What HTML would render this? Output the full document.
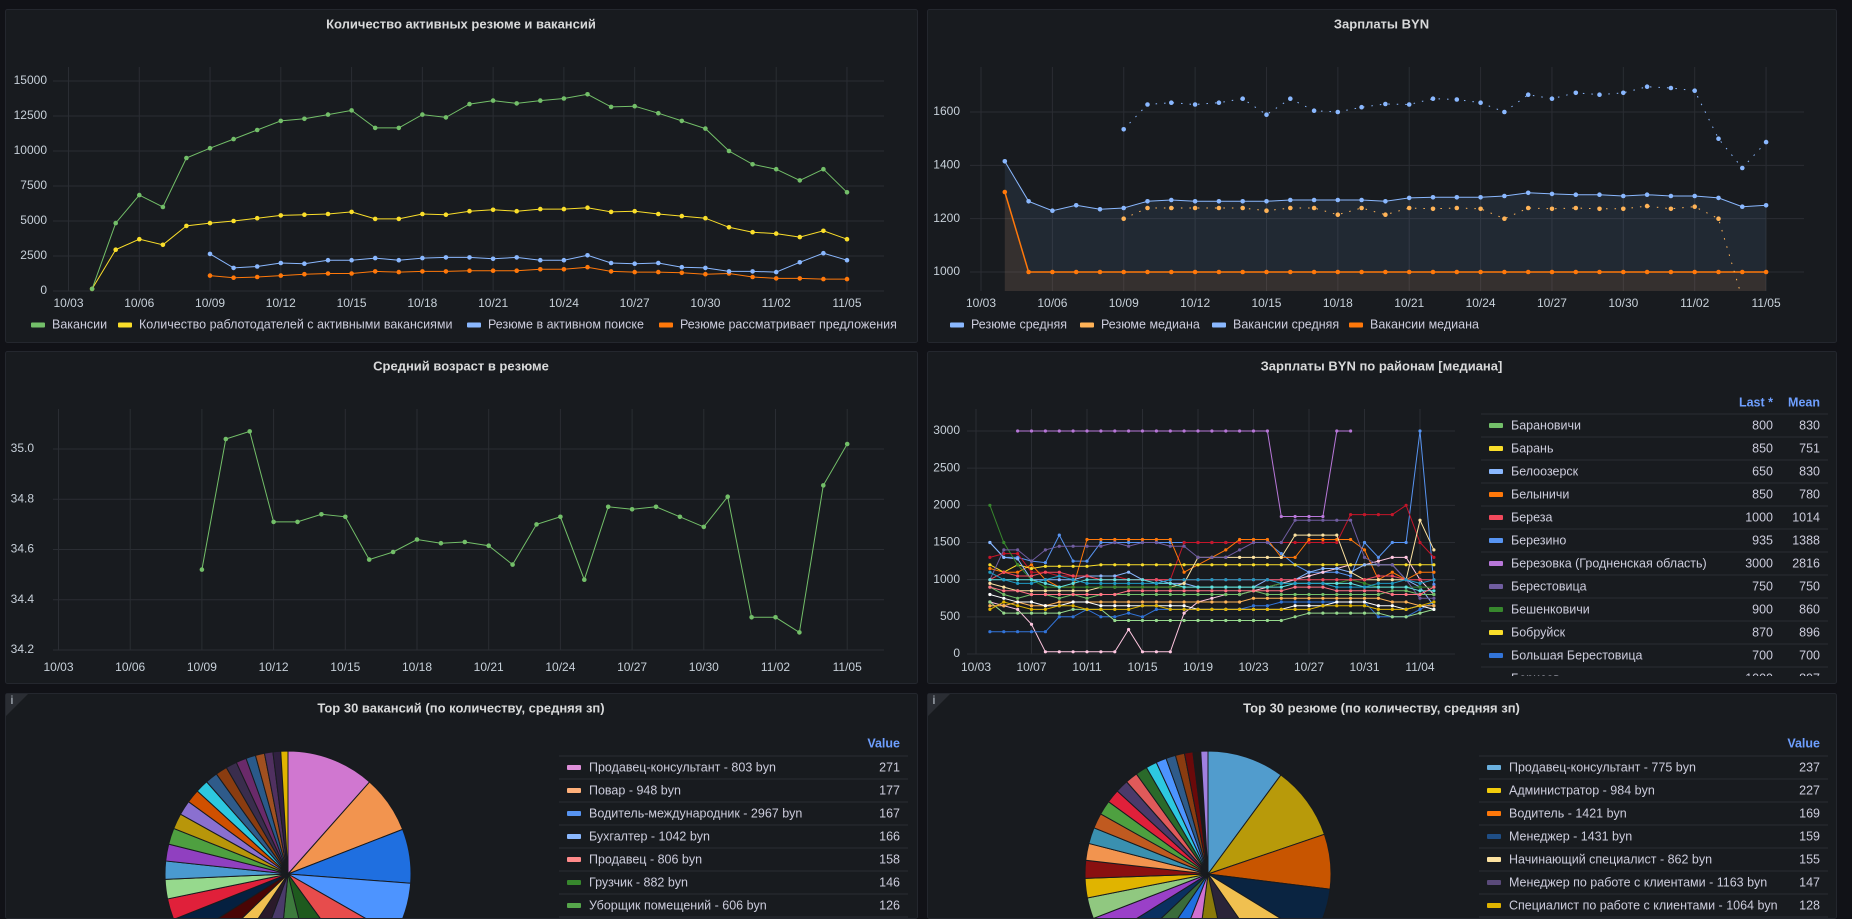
<!DOCTYPE html>
<html><head><meta charset="utf-8">
<style>
html,body{margin:0;padding:0;background:#111217;width:1852px;height:919px;overflow:hidden}
svg{display:block;font-family:"Liberation Sans","DejaVu Sans",sans-serif}
.t{fill:#d8d9da;font-size:13px;font-weight:bold}
.tk{fill:#c7d0d9;font-size:12px}
.lg{fill:#ccccdc;font-size:12.5px}
.hd{fill:#6e9fff;font-size:12.5px;font-weight:bold}
</style></head>
<body>
<svg id="root" width="1852" height="919" viewBox="0 0 1852 919"></svg>
<script>
// ---------- DATA ----------
const p1Ticks = ['10/03','10/06','10/09','10/12','10/15','10/18','10/21','10/24','10/27','10/30','11/02','11/05'];
const p1YTicks = [0,2500,5000,7500,10000,12500,15000];
const vacancies = [150,4850,6850,6000,9500,10200,10850,11500,12150,12300,12600,12900,11650,11650,12600,12400,13350,13600,13400,13600,13750,14050,13150,13200,12700,12150,11600,10000,9050,8700,7900,8700,7050];
const employers = [150,2950,3700,3300,4650,4850,5000,5200,5400,5450,5500,5650,5150,5150,5500,5450,5700,5800,5700,5850,5850,5950,5650,5700,5500,5350,5200,4550,4200,4100,3850,4300,3700];
const resumeActive = [2650,1650,1750,2000,1950,2200,2200,2350,2200,2350,2400,2400,2300,2400,2200,2200,2550,2000,1950,2000,1700,1650,1400,1400,1350,2050,2700,2200];
const resumeConsider = [1100,950,1000,1100,1200,1250,1250,1400,1350,1400,1400,1450,1450,1450,1550,1550,1700,1400,1350,1350,1300,1200,1250,1000,900,900,850,850];

const p2YTicks = [1000,1200,1400,1600];
const resumeAvg = [1415,1265,1230,1250,1235,1240,1265,1270,1265,1265,1265,1265,1270,1270,1270,1270,1265,1278,1280,1280,1280,1285,1297,1293,1290,1290,1285,1290,1285,1285,1278,1245,1250];
const vacMedian = [1300,1000,1000,1000,1000,1000,1000,1000,1000,1000,1000,1000,1000,1000,1000,1000,1000,1000,1000,1000,1000,1000,1000,1000,1000,1000,1000,1000,1000,1000,1000,1000,1000];
const vacAvg = [1535,1628,1635,1628,1635,1650,1590,1650,1605,1600,1618,1630,1628,1650,1647,1635,1600,1665,1650,1672,1665,1672,1695,1690,1680,1500,1390,1487];
const resumeMedian = [1200,1240,1240,1240,1240,1240,1230,1240,1240,1215,1240,1215,1240,1237,1240,1237,1200,1240,1237,1240,1237,1237,1247,1237,1245,1200,900];

const p3YTicks = [34.2,34.4,34.6,34.8,35.0];
const ageValues = [34.52,35.04,35.07,34.71,34.71,34.74,34.73,34.56,34.59,34.64,34.625,34.63,34.615,34.54,34.70,34.73,34.48,34.77,34.76,34.77,34.73,34.69,34.81,34.33,34.33,34.27,34.855,35.02];

const p4Ticks = ['10/03','10/07','10/11','10/15','10/19','10/23','10/27','10/31','11/04'];
const p4YTicks = [0,500,1000,1500,2000,2500,3000];
const d1 = [null,null,3000,3000,3000,3000,3000,3000,3000,3000,3000,3000,3000,3000,3000,3000,3000,3000,3000,3000,3000,1850,1850,1850,1850,3000,3000,null,null,null,null,null,null];
const d2 = [1500,1300,1300,1250,1230,1600,1250,1250,1500,1500,1500,1500,1500,1500,1500,1500,1500,1500,1500,1500,1500,1350,1200,1100,1100,1100,1050,1500,1300,1500,1500,3000,935];
const d3 = [700,650,600,400,30,30,30,30,30,30,330,30,30,30,550,700,750,800,800,850,900,950,1000,1050,1100,1150,1200,1200,1250,1300,1300,1000,800];
const d4 = [1300,1350,1350,1100,1100,1050,1050,1050,1050,1050,1000,1000,1000,1000,1500,1500,1500,1500,1500,1500,1500,1500,1500,1500,1500,1500,1875,1875,1875,1875,2000,1500,1300];
const d5 = [1150,1100,1100,1200,1000,900,900,1540,1540,1540,1540,1540,1540,1540,1100,1200,1300,1400,1540,1540,1540,1300,1300,1540,1540,1540,1540,1400,1000,1100,1000,1100,1100];
const d6 = [1200,1100,1200,1150,1180,1180,1180,1180,1200,1200,1200,1200,1200,1200,1200,1200,1200,1200,1200,1200,1200,1200,1200,1200,1200,1200,1200,1200,1200,1200,1200,1200,1200];
const d7 = [1500,1300,1280,1000,1000,1000,1000,1050,1050,1050,1100,1000,1000,950,950,900,900,900,900,900,1000,1000,1000,1100,1150,1150,1100,1200,1200,1200,1000,900,650];
const d8 = [950,900,850,850,850,850,850,850,900,900,900,900,900,900,950,1300,1300,1300,1300,1300,1300,1300,1600,1600,1600,1600,1100,1000,1000,1000,1000,1800,1400];
const d9 = [300,300,300,300,300,500,500,600,500,500,550,500,600,600,600,600,600,600,600,650,650,700,700,700,700,700,700,700,500,500,500,600,700];
const d10 = [900,800,750,800,800,750,800,750,800,800,800,800,800,800,800,800,800,800,800,850,800,800,800,800,800,800,800,800,800,850,850,800,800];
const d11 = [2000,1500,1200,1000,900,900,900,900,900,900,900,900,900,900,900,900,900,900,900,900,900,950,950,950,950,950,1000,950,900,900,900,900,900];
const d12 = [1000,1400,1400,1250,1400,1450,1450,1450,1450,1500,1450,1500,1500,1450,1450,1300,1300,1300,1400,1500,1500,1500,1800,1800,1800,1800,1800,1300,1200,1200,1000,750,750];
const d13 = [1000,1100,1050,1050,1100,1100,1050,1050,1000,1000,1000,1000,1000,1000,1000,1000,1000,1000,1000,1000,1000,1000,1000,1000,1000,1000,1000,1000,1050,1050,1000,1000,1000];
const d14 = [700,550,550,550,550,550,600,600,600,450,450,450,450,450,450,450,450,450,450,450,450,450,500,550,550,550,550,550,550,500,500,550,600];
const d15 = [1000,1000,1000,1000,950,900,950,1000,1000,1000,1000,1000,950,950,900,900,900,900,900,900,900,900,950,950,950,950,950,900,900,900,900,850,850];
const d16 = [650,650,700,650,650,700,700,700,700,700,700,700,700,700,700,700,700,700,700,750,750,750,750,750,750,750,750,750,750,700,700,650,650];
const d17 = [800,750,700,700,650,650,700,700,650,650,650,650,650,650,650,600,600,600,600,600,600,600,650,650,650,700,700,700,650,650,600,650,600];
const d18 = [900,850,850,800,800,800,800,800,800,800,850,850,850,850,850,850,850,850,850,850,850,850,900,900,900,850,850,850,850,800,800,800,900];
const d19 = [600,700,650,600,600,650,650,600,600,600,600,650,650,600,600,600,600,600,600,600,600,600,600,600,650,650,650,650,600,600,600,650,700];
const d20 = [1100,1000,950,950,1000,1050,1000,950,950,950,950,950,950,1000,1000,1000,1000,1000,1000,1000,1000,950,950,950,950,900,900,900,950,950,1000,950,1000];
const districtSeries = [d1,d2,d3,d4,d5,d6,d7,d8,d9,d10,d11,d12,d13,d14,d15,d16,d17,d18,d19,d20];
const districtNames = ['Барановичи','Барань','Белоозерск','Белыничи','Береза','Березино','Березовка (Гродненская область)','Берестовица','Бешенковичи','Бобруйск','Большая Берестовица','Борисов'];
const districtLast = ['800','850','650','850','1000','935','3000','750','900','870','700','1000'];
const districtMean = ['830','751','830','780','1014','1388','2816','750','860','896','700','897'];

const vacPieValues = [271,177,167,166,158,146,126,95,88,80,75,70,65,60,56,52,50,48,45,42,40,38,36,34,32,30,28,26,24,22];
const vacPieLabels = ['Продавец-консультант - 803 byn','Повар - 948 byn','Водитель-международник - 2967 byn','Бухгалтер - 1042 byn','Продавец - 806 byn','Грузчик - 882 byn','Уборщик помещений - 606 byn'];
const resPieValues = [237,227,169,159,155,147,128,90,85,80,75,70,65,60,55,52,50,47,44,42,40,38,36,34,32,30,28,26,24,22];
const resPieLabels = ['Продавец-консультант - 775 byn','Администратор - 984 byn','Водитель - 1421 byn','Менеджер - 1431 byn','Начинающий специалист - 862 byn','Менеджер по работе с клиентами - 1163 byn','Специалист по работе с клиентами - 1064 byn'];

// ---------- STYLE (not data) ----------
const districtColors = ['#b877d9','#5794f2','#ffc6e0','#c4162a','#ff780a','#fade2a','#8ab8ff','#fce2a0','#3274d9','#73bf69','#37872d','#705da0','#f2495c','#96d98d','#5ee0e0','#ffb357','#ffffff','#ff7383','#e0b400','#1f9ac4'];
const districtLegendColors = ['#73bf69','#fade2a','#8ab8ff','#ff780a','#f2495c','#5794f2','#b877d9','#705da0','#37872d','#fade2a','#3274d9','#c4162a'];
const vacPieColors = ['#d077d0','#f2944f','#1f6fe0','#4d94ff','#e74c4c','#1e5a1e','#3d7a3d','#4a3a6a','#2a1a2a','#f0c050','#4a0505','#052040','#e0203a','#96d98d','#4a9ad0','#9040c0','#4ea040','#b8960a','#8a70d0','#d05000','#2dc8e0','#2f5b8a','#8a3c10','#3a2d4d','#6a2a6a','#2a5a8a','#a05020','#503060','#302040','#e0b400'];
const vacLegendColors = ['#de8fd9','#ffb07a','#5794f2','#8ab8ff','#ff8a8a','#37872d','#56a64b'];
const resPieColors = ['#519ccd','#b89a0a','#c85500','#0a2441','#f0c050','#2a2438','#8a7a0a','#d070d0','#1f6fe0','#3a6b3a','#0a3060','#9a40c8','#90c880','#e0b400','#8a1010','#f2944f','#3a90b0','#c05a20','#4ea040','#e0203a','#4a3a6a','#e05a5a','#2a6a2a','#2dc8e0','#4d94ff','#2f5b8a','#8a3c10','#6a0a0a','#1a1a1a','#a080e0'];
const resLegendColors = ['#6ab0de','#f2cc0c','#ff780a','#1f4e86','#fce2a0','#5a4a7a','#e0b400'];

const NS = 'http://www.w3.org/2000/svg';
const root = document.getElementById('root');
function mk(tag, attrs, parent){
  const e = document.createElementNS(NS, tag);
  for (const k in attrs) e.setAttribute(k, attrs[k]);
  (parent||root).appendChild(e);
  return e;
}
function txt(x,y,s,cls,anchor,parent){
  const t = mk('text',{x:x,y:y,class:cls,'text-anchor':anchor||'start','dominant-baseline':'middle'},parent);
  t.textContent = s;
  return t;
}

// ---------- PANELS ----------
const panels = [
  [5,9,912,333,'Количество активных резюме и вакансий','panel-active-counts'],
  [927,9,909,333,'Зарплаты BYN','panel-salaries'],
  [5,351,912,332,'Средний возраст в резюме','panel-average-age'],
  [927,351,909,332,'Зарплаты BYN по районам [медиана]','panel-district-salaries'],
  [5,693,912,225,'Top 30 вакансий (по количеству, средняя зп)','panel-top-vacancies'],
  [927,693,909,225,'Top 30 резюме (по количеству, средняя зп)','panel-top-resumes']
];
panels.forEach(p=>{
  const r = mk('rect',{x:p[0]+0.5,y:p[1]+0.5,width:p[2],height:p[3],rx:2,fill:'#181b1f',stroke:'#24272e'});
  
  
  const t = txt(p[0]+p[2]/2,p[1]+16,p[4],'t','middle');
  
  
});
[[5,693],[927,693]].forEach(c=>{
  const tri = mk('path',{d:`M${c[0]+1} ${c[1]+1} h22 l-22 22 z`,fill:'#2a2d33'});
  
  
  const i = txt(c[0]+7,c[1]+8,'i','tk','middle');
  
  
});

// ---------- AXES ----------
function axes(cfg){
  const g = mk('g',{});
  
  
  cfg.yTicks.forEach(v=>{
    const y = cfg.y(v);
    mk('line',{x1:cfg.gx0,x2:cfg.gx1,y1:y,y2:y,stroke:'#2a2d33'},g);
    const t = txt(cfg.ylx,y,cfg.yfmt?cfg.yfmt(v):String(v),'tk','end',g);
    
    
  });
  cfg.xTicks.forEach((s,i)=>{
    const x = cfg.x(i*cfg.xStep);
    mk('line',{x1:x,x2:x,y1:cfg.top,y2:cfg.bottom,stroke:'#2a2d33'},g);
    const t = txt(x,cfg.xly,s,'tk','middle',g);
    
    
  });
}
function series(cfg, vals, start, color, name, opts){
  opts = opts||{};
  const g = mk('g',{});
  
  
  let d='', pen=false, pts=[];
  vals.forEach((v,i)=>{
    if (v===null){pen=false;return;}
    const x = cfg.x(start+i), y = cfg.y(v);
    d += (pen?'L':'M')+x.toFixed(1)+' '+y.toFixed(1)+' ';
    pen=true; pts.push([x,y]);
  });
  if (opts.fill){
    const f = 'M'+pts[0][0]+' '+cfg.bottom+' L'+pts.map(p=>p[0].toFixed(1)+' '+p[1].toFixed(1)).join(' L')+' L'+pts[pts.length-1][0]+' '+cfg.bottom+' Z';
    const a = mk('path',{d:f,fill:opts.fill},g);
    
    
  }
  const l = mk('path',{d:d,fill:'none',stroke:color,'stroke-width':opts.w||1,'stroke-dasharray':opts.dash||'none'},g);
  
  
  pts.forEach(p=>{
    const c = mk('circle',{cx:p[0].toFixed(1),cy:p[1].toFixed(1),r:opts.r||2.3,fill:color},g);
    
    
  });
  return g;
}
function legend(items, y){
  items.forEach(it=>{
    const r = mk('rect',{x:it[0],y:y-2.5,width:14,height:5,rx:1,fill:it[2]});
    
    
    const t = txt(it[0]+21,y,it[1],'lg','start');
    
    
  });
}

// Panel 1
const c1 = {name:'active-counts',x:d=>68.5+d*23.59,y:v=>291-v*210/15000,yTicks:p1YTicks,xTicks:p1Ticks,xStep:3,gx0:53,gx1:884,ylx:47,xly:304,top:67,bottom:291};
axes(c1);
series(c1,resumeConsider,6,'#ff780a','series-resume-considering');
series(c1,resumeActive,6,'#8ab8ff','series-resume-active');
series(c1,employers,1,'#fade2a','series-employers');
series(c1,vacancies,1,'#73bf69','series-vacancies');
legend([[31,'Вакансии','#73bf69'],[118,'Количество раблотодателей с активными вакансиями','#fade2a'],[467,'Резюме в активном поиске','#8ab8ff'],[659,'Резюме рассматривает предложения','#ff780a']],325);

// Panel 2
const c2 = {name:'salaries',x:d=>981+d*23.79,y:v=>272-(v-1000)*160/600,yTicks:p2YTicks,xTicks:p1Ticks,xStep:3,gx0:970,gx1:1804,ylx:960,xly:304,top:67,bottom:291};
axes(c2);
const clip = mk('clipPath',{id:'c2clip'});
mk('rect',{x:960,y:60,width:860,height:231},clip);
series(c2,resumeAvg,1,'#8ab8ff','series-resume-average',{fill:'rgba(138,184,255,0.09)'});
series(c2,vacMedian,1,'#ff780a','series-vacancy-median',{fill:'rgba(255,120,10,0.09)',w:1.5});
series(c2,vacAvg,6,'#8ab8ff','series-vacancy-average',{dash:'1.5 7'});
series(c2,resumeMedian,6,'#ffb357','series-resume-median',{dash:'1.5 7'}).setAttribute('clip-path','url(#c2clip)');
legend([[950,'Резюме средняя','#8ab8ff'],[1080,'Резюме медиана','#ffb357'],[1212,'Вакансии средняя','#8ab8ff'],[1349,'Вакансии медиана','#ff780a']],325);

// Panel 3
const c3 = {name:'average-age',x:d=>58.5+d*23.9,y:v=>650-(v-34.2)*201/0.8,yTicks:p3YTicks,xTicks:p1Ticks,xStep:3,gx0:53,gx1:884,ylx:34,xly:668,top:409,bottom:650,yfmt:v=>v.toFixed(1)};
axes(c3);
series(c3,ageValues,6,'#73bf69','series-average-age');

// Panel 4
const c4 = {name:'district-salaries',x:d=>976+d*13.875,y:v=>654-v*223/3000,yTicks:p4YTicks,xTicks:p4Ticks,xStep:4,gx0:967,gx1:1455,ylx:960,xly:668,top:409,bottom:654};
axes(c4);
districtSeries.forEach((s,i)=>{
  series(c4,s,1,districtColors[i],'series-district-'+(i+1),{r:1.6});
});
const lt = mk('g',{});


const h1 = txt(1773,403,'Last *','hd','end',lt);


const h2 = txt(1820,403,'Mean','hd','end',lt);


const ltClip = mk('clipPath',{id:'ltclip'});
mk('rect',{x:1470,y:412,width:370,height:264},ltClip);
const ltRows = mk('g',{'clip-path':'url(#ltclip)'},lt);
districtNames.forEach((n,i)=>{
  const y0 = 414+i*23;
  mk('line',{x1:1481,x2:1828,y1:y0,y2:y0,stroke:'#2a2d33'},ltRows);
  const sw = mk('rect',{x:1489,y:y0+9,width:14,height:5,rx:1,fill:districtLegendColors[i]},ltRows);
  
  
  const t = txt(1511,y0+12,n,'lg','start',ltRows);
  
  
  txt(1773,y0+12,districtLast[i],'lg','end',ltRows);
  txt(1820,y0+12,districtMean[i],'lg','end',ltRows);
});

// ---------- PIES ----------
const pclip = mk('clipPath',{id:'pclip'});
mk('rect',{x:0,y:693,width:1852,height:225},pclip);
function pie(cx,cy,r,vals,colors,name){
  const g = mk('g',{'clip-path':'url(#pclip)'});
  
  
  const tot = vals.reduce((a,b)=>a+b,0);
  let a0 = 0;
  vals.forEach((v,i)=>{
    const a1 = a0 + v/tot*Math.PI*2;
    const x0 = cx+r*Math.sin(a0), y0 = cy-r*Math.cos(a0);
    const x1 = cx+r*Math.sin(a1), y1 = cy-r*Math.cos(a1);
    const large = (a1-a0)>Math.PI?1:0;
    const p = mk('path',{d:`M${cx} ${cy} L${x0.toFixed(2)} ${y0.toFixed(2)} A${r} ${r} 0 ${large} 1 ${x1.toFixed(2)} ${y1.toFixed(2)} Z`,fill:colors[i%colors.length],stroke:'#181b1f','stroke-width':1},g);
    
    
    a0 = a1;
  });
}
function pieLegend(x0,x1,labels,vals,colors,name){
  const g = mk('g',{'clip-path':'url(#pclip)'});
  
  
  const h = txt(x1-8,744,'Value','hd','end',g);
  
  
  labels.forEach((l,i)=>{
    const y0 = 756+i*23;
    mk('line',{x1:x0,x2:x1,y1:y0,y2:y0,stroke:'#2a2d33'},g);
    const sw = mk('rect',{x:x0+8,y:y0+9,width:14,height:5,rx:1,fill:colors[i]},g);
    
    
    const t = txt(x0+30,y0+12,l,'lg','start',g);
    
    
    txt(x1-8,y0+12,String(vals[i]),'lg','end',g);
  });
  mk('line',{x1:x0,x2:x1,y1:756+labels.length*23,y2:756+labels.length*23,stroke:'#2a2d33'},g);
}
pie(288,874,123,vacPieValues,vacPieColors,'vacancies-pie');
pieLegend(559,908,vacPieLabels,vacPieValues,vacLegendColors,'vacancies-pie-legend');
pie(1208,874,123,resPieValues,resPieColors,'resumes-pie');
pieLegend(1479,1828,resPieLabels,resPieValues,resLegendColors,'resumes-pie-legend');
</script>
</body></html>
